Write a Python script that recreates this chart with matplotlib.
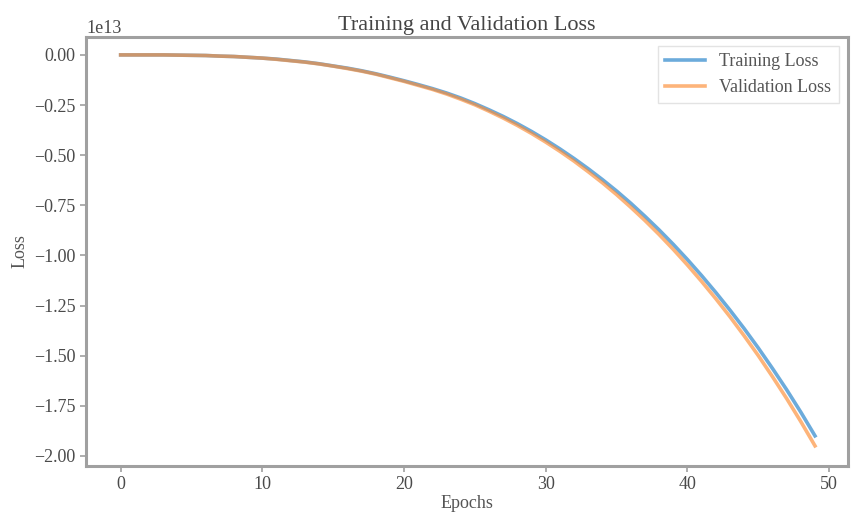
import numpy as np
import matplotlib.pyplot as plt

# valores (unidades de 1e13)
epochs = list(range(50))
train_loss = [0.000, 0.000, 0.000, 0.000, 0.001, 0.002, 0.003, 0.006, 0.008, 0.012,
              0.016, 0.021, 0.028, 0.035, 0.044, 0.055, 0.066, 0.079, 0.094, 0.111,
              0.129, 0.148, 0.168, 0.190, 0.215, 0.243, 0.274, 0.307, 0.343, 0.382,
              0.424, 0.469, 0.517, 0.568, 0.622, 0.679, 0.740, 0.805, 0.873, 0.945,
              1.021, 1.101, 1.185, 1.273, 1.365, 1.462, 1.564, 1.670, 1.782, 1.900]
val_loss = [0.000, 0.000, 0.000, 0.000, 0.001, 0.002, 0.003, 0.006, 0.008, 0.012,
            0.016, 0.022, 0.029, 0.036, 0.045, 0.056, 0.068, 0.081, 0.096, 0.114,
            0.132, 0.152, 0.172, 0.195, 0.221, 0.249, 0.281, 0.315, 0.352, 0.392,
            0.435, 0.481, 0.530, 0.583, 0.638, 0.697, 0.760, 0.826, 0.896, 0.970,
            1.048, 1.130, 1.216, 1.306, 1.401, 1.500, 1.605, 1.714, 1.829, 1.950]
yticks = [0.0, -0.25, -0.5, -0.75, -1.0, -1.25, -1.5, -1.75, -2.0]

plt.rcParams['font.family'] = ['Liberation Serif', 'DejaVu Serif']
plt.rcParams['axes.unicode_minus'] = True

fig = plt.figure(figsize=(8.51, 5.12), dpi=100)
ax = fig.add_axes([0.101, 0.090, 0.895, 0.838])

ax.plot(epochs, -np.array(train_loss) * 1e13, color='#3b8fd0', lw=2.6, alpha=0.75, label='Training Loss')
ax.plot(epochs, -np.array(val_loss) * 1e13, color='#fd8c33', lw=2.6, alpha=0.65, label='Validation Loss')

ax.set_yticks(np.array(yticks) * 1e13)
ax.set_ylim(-2.05e13, 0.09e13)
ax.set_xlim(-2.45, 51.3)
ax.set_xticks([0, 10, 20, 30, 40, 50])

for s in ax.spines.values():
    s.set_color('#a0a0a0')
    s.set_linewidth(2.2)
ax.tick_params(colors='#4a4a4a', labelsize=13, length=4, width=1.2, direction='out')
ax.tick_params(axis='both', color='#a0a0a0')
ax.yaxis.get_offset_text().set_fontsize(13)
ax.yaxis.get_offset_text().set_color('#4a4a4a')

ax.set_title('Training and Validation Loss', fontsize=16, color='#444444', pad=5)
ax.set_xlabel('Epochs', fontsize=13, color='#555555', labelpad=1)
ax.set_ylabel('Loss', fontsize=13, color='#555555', labelpad=4)

leg = ax.legend(loc='upper right', fontsize=13, frameon=True, fancybox=False, handlelength=2.2)
leg.get_frame().set_edgecolor('#dddddd')
for t in leg.get_texts():
    t.set_color('#555555')

fig.savefig('out.png', dpi=100)
